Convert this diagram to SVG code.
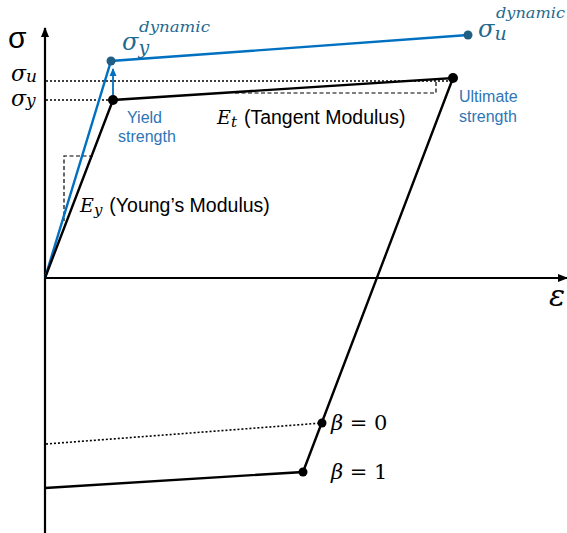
<svg xmlns="http://www.w3.org/2000/svg" width="567" height="533" viewBox="0 0 567 533">
<defs>
<marker id="ah" markerWidth="10" markerHeight="10" refX="9" refY="5" orient="auto" markerUnits="userSpaceOnUse">
<path d="M0,1 L10,5 L0,9 Z" fill="#000"/>
</marker>
<marker id="ahb" markerWidth="8" markerHeight="8" refX="7" refY="4" orient="auto" markerUnits="userSpaceOnUse">
<path d="M0,0.5 L8,4 L0,7.5 Z" fill="#0070C0"/>
</marker>
<style>
.ax{stroke:#000;stroke-width:2.2;fill:none}
.bk{stroke:#000;stroke-width:2.4;fill:none}
.bl{stroke:#0070C0;stroke-width:2.4;fill:none}
.dot{stroke:#000;stroke-width:1.6;stroke-dasharray:2 2;fill:none}
.dash{stroke:#000;stroke-width:1.2;stroke-dasharray:4 2.5;fill:none}
.math{font-family:"DejaVu Serif","Liberation Serif",serif;font-style:italic;fill:#000}
.sans{font-family:"Liberation Sans",Arial,sans-serif;fill:#000}
.blt{font-family:"Liberation Sans",Arial,sans-serif;fill:#2E75B6;font-size:16px}
.dyn{font-family:"DejaVu Serif","Liberation Serif",serif;font-style:italic;fill:#1F6A8F}
</style>
</defs>
<g id="connectors">
<line class="ax" x1="45" y1="533" x2="45" y2="28" marker-end="url(#ah)"/>
<line class="ax" x1="45" y1="278" x2="567" y2="278" marker-end="url(#ah)"/>
<line class="dot" x1="46" y1="81" x2="450" y2="81"/>
<line class="dot" x1="46" y1="100" x2="112" y2="100"/>
<polyline class="dash" points="235,93 436,93 436,80"/>
<polyline class="dash" points="93,156 64,156 64,221"/>
<polyline class="bl" points="45,278 111,61 468,35"/>
<polyline class="bk" points="45,278 113,100 453,78 303,472 45,488"/>
<line class="dot" x1="46" y1="444" x2="322" y2="423"/>
<line stroke="#0070C0" stroke-width="1.8" x1="113" y1="95" x2="113" y2="69" marker-end="url(#ahb)"/>
</g>
<g id="points">
<circle cx="111" cy="61" r="4.5" fill="#1F5F85"/>
<circle cx="468" cy="35" r="4.5" fill="#1F5F85"/>
<circle cx="113" cy="100" r="5" fill="#000"/>
<circle cx="453" cy="78" r="5" fill="#000"/>
<circle cx="322" cy="423" r="4.5" fill="#000"/>
<circle cx="303" cy="472" r="4.5" fill="#000"/>
</g>
<g id="axis-labels">
<text class="sans" x="8" y="48" font-size="30">σ</text>
<text class="math" x="549" y="306" font-size="30">ε</text>
<text class="math" x="11" y="81" font-size="22">σ<tspan font-size="17" dy="1">u</tspan></text>
<text class="math" x="11" y="106" font-size="22">σ<tspan font-size="17" dy="0">y</tspan></text>
</g>
<g id="dynamic-labels">
<text class="dyn" x="122" y="50" font-size="24">σ<tspan font-size="19" dy="4">y</tspan><tspan font-size="15" x="139" y="32" textLength="71" lengthAdjust="spacingAndGlyphs">dynamic</tspan></text>
<text class="dyn" x="478" y="37" font-size="24">σ<tspan font-size="19" dy="3">u</tspan><tspan font-size="15" x="496" y="18" textLength="69" lengthAdjust="spacingAndGlyphs">dynamic</tspan></text>
</g>
<g id="yield-label">
<text class="blt" x="127" y="123">Yield</text>
<text class="blt" x="118" y="142">strength</text>
</g>
<g id="ultimate-label">
<text class="blt" x="459" y="102" font-size="15">Ultimate</text>
<text class="blt" x="459" y="122" font-size="15">strength</text>
</g>
<g id="tangent-label">
<text x="217" y="124" font-size="19"><tspan class="math">E</tspan><tspan class="math" font-size="15" dy="3">t</tspan><tspan class="sans" dx="7" dy="-3" font-size="19.5">(Tangent Modulus)</tspan></text>
</g>
<g id="young-label">
<text x="80" y="212" font-size="19"><tspan class="math">E</tspan><tspan class="math" font-size="15" dy="3">y</tspan><tspan class="sans" dx="7" dy="-3" font-size="19.5">(Young’s Modulus)</tspan></text>
</g>
<g id="beta-labels">
<text class="math" x="331" y="430" font-size="21">β <tspan font-style="normal">= 0</tspan></text>
<text class="math" x="331" y="479" font-size="21">β <tspan font-style="normal">= 1</tspan></text>
</g>
</svg>
